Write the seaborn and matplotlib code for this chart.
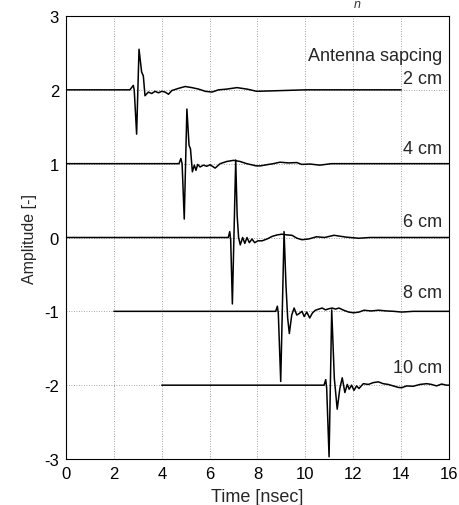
import pandas as pd
import matplotlib
matplotlib.use('Agg')
import matplotlib.pyplot as plt
import seaborn as sns

# traces: time [nsec] and offset from each baseline
spacings = ['2 cm', '4 cm', '6 cm', '8 cm', '10 cm']
baselines = [2, 1, 0, -1, -2]

t_2cm = [0, 2.67, 2.81, 2.85, 2.95, 3.05, 3.16, 3.23, 3.30, 3.44, 3.58, 3.72, 3.86, 4.0,
         4.14, 4.28, 4.42, 4.7, 4.98, 5.26, 5.54, 5.82, 6.1, 6.37, 6.72, 7.14, 7.56, 7.97,
         8.5, 9.0, 10.0, 14.0]
a_2cm = [0, 0, 0.06, 0, -0.60, 0.55, 0.24, 0.19, -0.08, -0.03, -0.05, -0.02, -0.04, -0.02,
         -0.03, -0.06, -0.01, 0.02, 0.045, 0.03, 0.01, -0.02, -0.03, 0.0, 0.01, 0.03, 0.01,
         -0.02, -0.015, -0.01, 0.0, 0.0]

t_4cm = [0, 4.72, 4.80, 4.85, 4.94, 5.05, 5.14, 5.20, 5.28, 5.36, 5.43, 5.50, 5.60, 5.74,
         5.88, 6.02, 6.23, 6.44, 6.72, 7.0, 7.27, 7.55, 7.95, 8.11, 8.38, 8.66, 8.94, 9.29,
         9.64, 9.85, 10.2, 10.6, 11.09, 16.0]
a_4cm = [0, 0, 0.07, 0, -0.75, 0.74, 0.25, 0.20, -0.11, -0.02, -0.09, -0.01, -0.045, -0.02,
         -0.035, -0.015, -0.06, 0.0, 0.03, 0.045, 0.03, 0.0, -0.03, -0.03, -0.015, 0.0, 0.02,
         0.01, 0.015, -0.01, -0.005, -0.02, 0.0, 0.0]

t_6cm = [0, 6.78, 6.84, 6.88, 6.95, 7.09, 7.15, 7.21, 7.28, 7.38, 7.47, 7.56, 7.66, 7.77,
         7.88, 8.02, 8.19, 8.40, 8.61, 8.82, 9.02, 9.23, 9.44, 9.65, 9.86, 10.14, 10.47,
         10.8, 11.2, 11.7, 12.23, 12.7, 16.0]
a_6cm = [0, 0, 0.08, -0.03, -0.90, 1.05, 0.30, 0.0, -0.10, 0.0, -0.08, 0.0, -0.07, -0.02,
         -0.07, -0.045, -0.045, -0.02, 0.015, 0.035, 0.045, 0.035, 0.03, -0.01, -0.03, -0.02,
         0.01, 0.0, 0.03, 0.005, -0.01, 0.0, 0.0]

t_8cm = [2, 8.76, 8.83, 8.87, 8.97, 9.11, 9.19, 9.26, 9.33, 9.43, 9.53, 9.64, 9.74, 9.86,
         9.95, 10.06, 10.18, 10.3, 10.42, 10.56, 10.7, 10.84, 10.98, 11.12, 11.26, 11.4,
         11.6, 11.81, 12.02, 12.24, 12.45, 12.75, 13.05, 13.4, 13.7, 14.02, 14.5, 16.0]
a_8cm = [0, 0, 0.07, -0.03, -0.95, 1.08, 0.35, -0.09, -0.30, -0.05, 0.045, -0.05, -0.03, 0.0,
         -0.07, -0.01, -0.09, -0.02, 0.015, 0.03, 0.045, 0.02, 0.035, 0.045, 0.03, 0.045,
         0.015, -0.01, -0.02, -0.01, 0.015, 0.005, 0.015, 0.005, 0.0, -0.01, 0.0, 0.0]

t_10cm = [4, 10.78, 10.85, 10.89, 10.99, 11.10, 11.21, 11.33, 11.44, 11.54, 11.65, 11.75,
          11.83, 11.93, 12.03, 12.14, 12.24, 12.42, 12.63, 12.84, 13.05, 13.25, 13.46, 13.67,
          13.88, 14.02, 14.23, 14.5, 14.79, 15.07, 15.27, 15.48, 15.69, 15.9, 16.0]
a_10cm = [0, 0, 0.075, -0.04, -0.97, 1.02, 0.09, -0.325, -0.045, 0.10, -0.10, 0.01, -0.055,
          0.0, -0.07, -0.01, -0.045, 0.02, 0.01, 0.035, 0.045, 0.02, 0.01, -0.01, -0.03,
          -0.035, -0.01, -0.015, 0.01, 0.02, 0.01, -0.01, 0.015, 0.0, 0.0]

times = [t_2cm, t_4cm, t_6cm, t_8cm, t_10cm]
offsets = [a_2cm, a_4cm, a_6cm, a_8cm, a_10cm]

label_y = [2.16, 1.2, 0.22, -0.74, -1.76]

rows = []
for sp, base, tt, aa in zip(spacings, baselines, times, offsets):
    for t, a in zip(tt, aa):
        rows.append({'Time': t, 'Amplitude': base + a, 'Spacing': sp})
df = pd.DataFrame(rows)

sns.set_style('white')
plt.rcParams['font.family'] = ['Liberation Sans', 'DejaVu Sans']
plt.rcParams['axes.unicode_minus'] = False

fig = plt.figure(figsize=(4.59, 5.06), dpi=100)
ax = fig.add_axes([0.1438, 0.0909, 0.9782 - 0.1438, 0.9664 - 0.0909])

for sp in spacings:
    sns.lineplot(data=df[df['Spacing'] == sp], x='Time', y='Amplitude', sort=False,
                 estimator=None, color='black', linewidth=1.1, ax=ax, zorder=3)

ax.set_xlim(0, 16)
ax.set_ylim(-3, 3)
ax.set_xticks(range(0, 17, 2))
ax.set_yticks(range(-3, 4))
ax.grid(True, linestyle=(0, (1, 2)), color='#888888', linewidth=0.6)
ax.tick_params(direction='in', length=3.5, labelsize=12, colors='black', pad=5)
for s in ax.spines.values():
    s.set_color('black')
    s.set_linewidth(0.8)
    s.set_zorder(4)

ax.set_xlabel('Time [nsec]', fontsize=13, labelpad=5)
ax.set_ylabel('Amplitude [-]', fontsize=11.5, labelpad=5)

ax.text(15.72, 2.46, 'Antenna sapcing', ha='right', va='center', fontsize=13)
for sp, y in zip(spacings, label_y):
    ax.text(15.72, y, sp, ha='right', va='center', fontsize=13)

fig.text(357 / 459, 1 - 5 / 506, 'n', style='italic', fontsize=9, ha='center', va='center',
         color='#333333')

fig.savefig('out.png', dpi=100)
